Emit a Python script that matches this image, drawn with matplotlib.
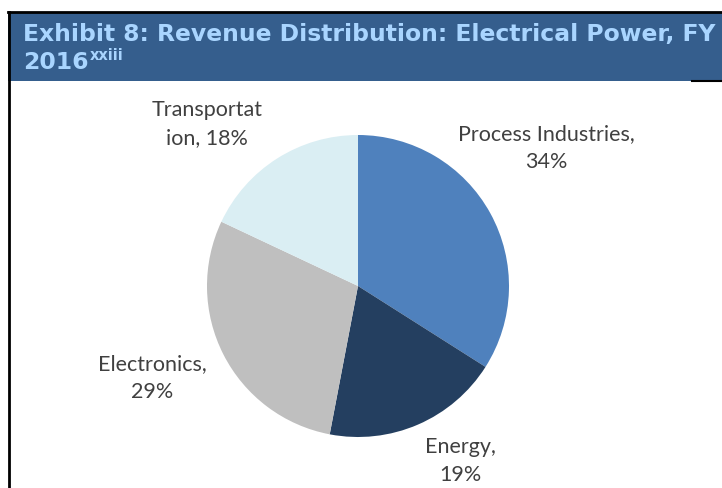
import matplotlib.pyplot as plt
from matplotlib.patches import Rectangle

# data
labels = ['Process Industries,\n34%', 'Energy,\n19%', 'Electronics,\n29%', 'Transportat\nion, 18%']
shares = [34, 19, 29, 18]
colors = ['#4F81BD', '#243F60', '#BFBFBF', '#DAEEF3']

W, H = 722, 489
# label centres, in pixels from the top-left corner
label_pos = [(546, 148), (460, 461), (152, 378), (207, 124)]

fig = plt.figure(figsize=(W / 100, H / 100), dpi=100)
ax = fig.add_axes([0, 0, 1, 1])

# pie
ax.pie(shares, colors=colors, startangle=90, counterclock=False,
       center=(358, H - 287), radius=151, frame=True,
       wedgeprops=dict(edgecolor='none'))
ax.set_xlim(0, W)
ax.set_ylim(0, H)
ax.set_aspect('equal')
ax.axis('off')

# header box
ax.add_patch(Rectangle((8, H - 82), W - 8, 69, facecolor='#355E8D', edgecolor='none'))
ax.plot([8, W], [H - 13, H - 13], color='black', lw=2)
ax.plot([9, 9], [0, H - 13], color='black', lw=2)
ax.plot([692, W], [H - 82, H - 82], color='black', lw=1.5)

title_color = '#A9D5FF'
ax.text(23, H - 35, 'Exhibit 8: Revenue Distribution: Electrical Power, FY',
        color=title_color, fontsize=16.9, fontweight='bold', family='DejaVu Sans',
        va='center', ha='left')
t = ax.text(23, H - 63, '2016', color=title_color, fontsize=16.9, fontweight='bold',
            family='DejaVu Sans', va='center', ha='left')
fig.canvas.draw()
bb = t.get_window_extent()
ax.text(bb.x1 + 1, H - 56, 'xxiii', color=title_color, fontsize=10.5, fontweight='bold',
        family='DejaVu Sans', va='center', ha='left')

for lab, (x, y) in zip(labels, label_pos):
    ax.text(x, H - y, lab, ha='center', va='center', fontsize=15.5, family='Lato',
            color='#404040', linespacing=1.55)

fig.savefig('out.png', dpi=100)
